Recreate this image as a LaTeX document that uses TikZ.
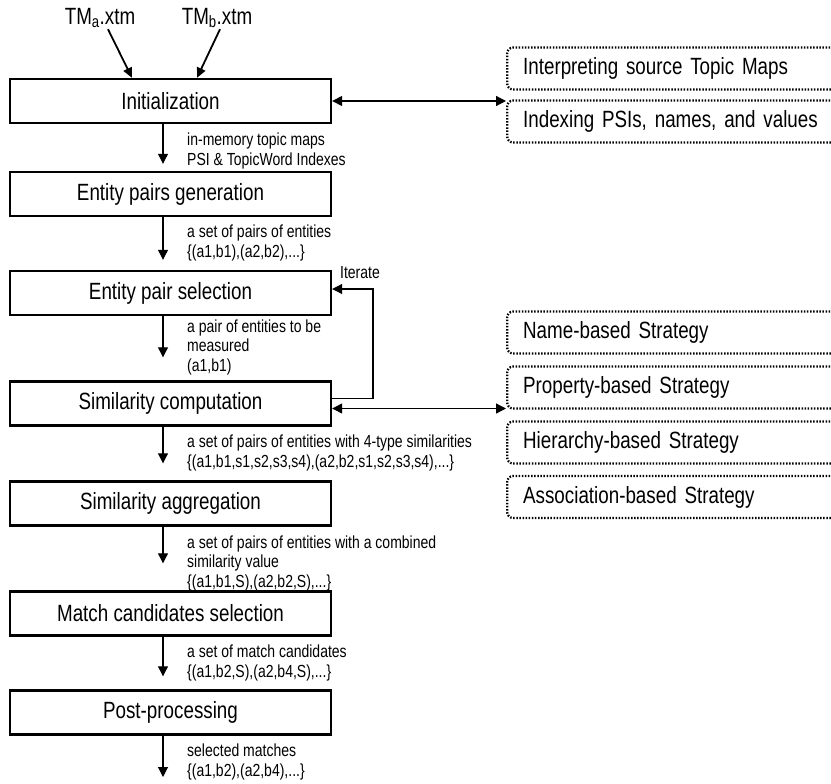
\documentclass[tikz,border=0pt]{standalone}
\usepackage{fontspec}
\setmainfont{Liberation Sans}[FakeStretch=0.8]
\usetikzlibrary{arrows.meta,calc}
\begin{document}
\begin{tikzpicture}[x=1pt,y=-1pt,
  stepbox/.style={draw, line width=2.4pt, minimum width=321pt, minimum height=44pt, inner sep=0pt, font=\fontsize{23.5}{26}\selectfont},
  dotbox/.style={draw, line width=2.3pt, dash pattern=on 1.5pt off 1.6pt, rounded corners=6pt, minimum height=42pt, minimum width=360pt, text width=328pt, inner xsep=16pt, inner ysep=0pt, align=left, anchor=west, font=\fontsize{23.5}{26}\selectfont},
  lbl/.style={anchor=west, inner sep=0pt, align=left, font=\fontsize{17.5}{19.5}\selectfont},
  flow/.style={line width=1.1pt, -{Triangle[length=10pt,width=10pt]}},
  both/.style={line width=1.3pt, {Triangle[length=10pt,width=10pt]}-{Triangle[length=10pt,width=10pt]}},
  tm/.style={line width=1.8pt, -{Triangle[length=10pt,width=9pt]}},
  tmlabel/.style={inner sep=1pt, font=\fontsize{23.5}{26}\selectfont}
]
\clip (0,0) rectangle (831,784);
\useasboundingbox (0,0) rectangle (831,784);
\fill[white] (0,0) rectangle (831,784);

% main steps
\node[stepbox] (init) at (170.5,101) {Initialization};
\node[stepbox] (epg) at (170.5,194) {Entity pairs generation};
\node[stepbox] (eps) at (170.5,293) {Entity pair selection};
\node[stepbox] (sc) at (170.5,403.5) {Similarity computation};
\node[stepbox] (sa) at (170.5,503.5) {Similarity aggregation};
\node[stepbox] (mcs) at (170.5,613.5) {Match candidates selection};
\node[stepbox] (pp) at (170.5,712.5) {Post-processing};

% inputs
\node[tmlabel] (tma) at (100,18) {TM\textsubscript{a}.xtm};
\node[tmlabel] (tmb) at (217,18) {TM\textsubscript{b}.xtm};
\coordinate (pa) at (132,0);
\coordinate (pb) at (197,0);
\draw[tm] ([xshift=8pt]tma.south) -- (init.north -| pa);
\draw[tm] ([xshift=3pt]tmb.south) -- (init.north -| pb);

% right side boxes
\node[dotbox] (interp) at (506,68.5) {Interpreting source Topic Maps};
\node[dotbox] (idx) at (506,121.5) {Indexing PSIs, names, and values};
\node[dotbox] (name) at (506,332.5) {Name-based Strategy};
\node[dotbox] (prop) at (506,387.5) {Property-based Strategy};
\node[dotbox] (hier) at (506,442.5) {Hierarchy-based Strategy};
\node[dotbox] (assoc) at (506,497) {Association-based Strategy};

% vertical flow
\coordinate (ax) at (163,0);
\coordinate (endp) at (163,777);
\draw[flow, shorten >=7pt] (init.south -| ax) -- (epg.north -| ax);
\draw[flow, shorten >=10pt] (epg.south -| ax) -- (eps.north -| ax);
\draw[flow, shorten >=23pt] (eps.south -| ax) -- (sc.north -| ax);
\draw[flow, shorten >=17pt] (sc.south -| ax) -- (sa.north -| ax);
\draw[flow, shorten >=27pt] (sa.south -| ax) -- (mcs.north -| ax);
\draw[flow, shorten >=13pt] (mcs.south -| ax) -- (pp.north -| ax);
\draw[flow] (pp.south -| ax) -- (endp);

% labels
\node[lbl] (l1) at (187,151) {in-memory topic maps\\PSI \& TopicWord Indexes};
\node[lbl] (l2) at (187,243) {a set of pairs of entities\\\{(a1,b1),(a2,b2),...\}};
\node[lbl] (l3) at (187,347) {a pair of entities to be\\measured\\(a1,b1)};
\node[lbl] (l4) at (187,453) {a set of pairs of entities with 4-type similarities\\\{(a1,b1,s1,s2,s3,s4),(a2,b2,s1,s2,s3,s4),...\}};
\node[lbl] (l5) at (187,563) {a set of pairs of entities with a combined\\similarity value\\\{(a1,b1,S),(a2,b2,S),...\}};
\node[lbl] (l6) at (187,663) {a set of match candidates\\\{(a1,b2,S),(a2,b4,S),...\}};
\node[lbl] (l7) at (187,762) {selected matches\\\{(a1,b2),(a2,b4),...\}};

% side connections
\draw[both] (init.east) -- (init.east -| idx.west);
\draw[both] ([yshift=-5pt]sc.east) -- ([yshift=-5pt]sc.east -| prop.west);

% iterate loop
\coordinate (it) at (373,289);
\draw[flow] ([yshift=5pt]sc.east) -| (it) -- (it -| eps.east);
\node[lbl, anchor=center] (itl) at (360,273) {Iterate};
\end{tikzpicture}
\end{document}
